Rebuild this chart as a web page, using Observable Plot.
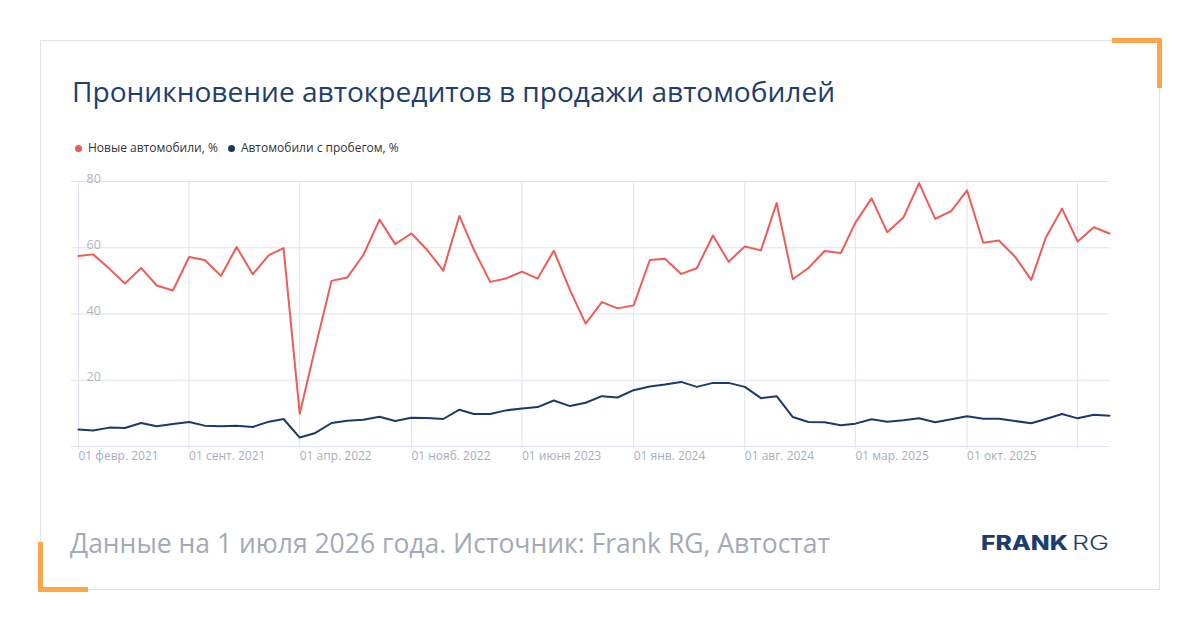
<!DOCTYPE html>
<html><head><meta charset="utf-8">
<script src="https://cdn.jsdelivr.net/npm/d3@7"></script>
<script src="https://cdn.jsdelivr.net/npm/@observablehq/plot@0.6"></script>
<style>
html,body{margin:0;padding:0;background:#fff;}
body{width:1200px;height:630px;position:relative;overflow:hidden;font-family:"Open Sans",sans-serif;}
.card{position:absolute;left:40px;top:40px;width:1120px;height:550px;border:1px solid #e3e3e3;box-sizing:border-box;}
.br-tr{position:absolute;left:1112px;top:38px;width:50px;height:50px;border-top:5px solid #ffa64d;border-right:5px solid #ffa64d;box-sizing:border-box;}
.br-bl{position:absolute;left:38px;top:542px;width:50px;height:50px;border-left:5px solid #ffa64d;border-bottom:5px solid #ffa64d;box-sizing:border-box;}
.title{position:absolute;left:72px;top:77px;font-size:28.1px;line-height:28px;color:#1e3e6f;white-space:nowrap;}
.legend{position:absolute;left:75px;top:142px;display:flex;font-size:12px;line-height:12px;color:#333;white-space:nowrap;}
.legend .item{display:flex;align-items:center;margin-right:10px;}
.legend .dot{width:7px;height:7px;border-radius:50%;margin-right:6px;}
.footer{position:absolute;left:70px;top:529.5px;font-size:26.5px;line-height:27px;color:#a4a9b8;white-space:nowrap;}
#chart{position:absolute;left:0;top:170px;}
#logo{position:absolute;left:975px;top:525px;}
</style></head>
<body>
<div class="card"></div>
<div class="br-tr"></div>
<div class="br-bl"></div>
<div class="title">Проникновение автокредитов в продажи автомобилей</div>
<div class="legend" id="legend"></div>
<div id="chart"></div>
<div class="footer">Данные на 1 июля 2026 года. Источник: Frank RG, Автостат</div>
<svg id="logo" width="150" height="35">
  <text x="6" y="25" font-family="Inter" font-weight="800" font-size="20" fill="#1d3c6e" textLength="87" lengthAdjust="spacingAndGlyphs">FRANK</text>
  <text x="97" y="25" font-family="Inter" font-weight="300" font-size="20" fill="#1d3c6e" textLength="37" lengthAdjust="spacingAndGlyphs">RG</text>
</svg>
<script>
const months = [
 "2021-02","2021-03","2021-04","2021-05","2021-06","2021-07","2021-08","2021-09","2021-10","2021-11","2021-12","2022-01",
 "2022-02","2022-03","2022-04","2022-05","2022-06","2022-07","2022-08","2022-09","2022-10","2022-11","2022-12","2023-01",
 "2023-02","2023-03","2023-04","2023-05","2023-06","2023-07","2023-08","2023-09","2023-10","2023-11","2023-12","2024-01",
 "2024-02","2024-03","2024-04","2024-05","2024-06","2024-07","2024-08","2024-09","2024-10","2024-11","2024-12","2025-01",
 "2025-02","2025-03","2025-04","2025-05","2025-06","2025-07","2025-08","2025-09","2025-10","2025-11","2025-12","2026-01",
 "2026-02","2026-03","2026-04","2026-05","2026-06","2026-07"
];
const newCars = [
 57.5,58.0,53.7,49.2,53.9,48.6,47.1,57.2,56.3,51.5,60.2,52.0,
 57.8,59.9,9.9,30.0,50.0,51.0,57.8,68.5,61.1,64.3,59.4,53.1,
 69.6,59.3,49.7,50.7,52.8,50.7,59.1,47.2,37.1,43.6,41.7,42.6,
 56.3,56.7,52.1,53.8,63.7,55.8,60.4,59.2,73.5,50.5,53.9,59.0,
 58.4,67.6,74.9,64.7,69.1,79.5,68.7,71.1,77.3,61.5,62.2,57.3,
 50.3,63.1,71.8,61.9,66.2,64.3
];
const usedCars = [
 5.1,4.8,5.7,5.6,7.1,6.1,6.8,7.4,6.3,6.1,6.3,5.9,
 7.5,8.3,2.7,4.1,7.1,7.8,8.1,9.0,7.7,8.7,8.6,8.3,
 11.1,9.8,9.8,10.9,11.5,11.9,13.9,12.2,13.2,15.2,14.8,17.0,
 18.1,18.7,19.5,18.0,19.2,19.2,18.0,14.6,15.2,8.9,7.4,7.3,
 6.4,6.9,8.2,7.5,7.9,8.5,7.3,8.2,9.1,8.4,8.4,7.7,
 7.0,8.3,9.8,8.5,9.6,9.3
];
const seriesNames = ["Новые автомобили, %", "Автомобили с пробегом, %"];
const seriesColors = ["#ef5b57", "#1b3a6b"];
const xTickMonths = ["2021-02","2021-09","2022-04","2022-11","2023-06","2024-01","2024-08","2025-03","2025-10","2026-05"];
const xTickLabels = ["01 февр. 2021","01 сент. 2021","01 апр. 2022","01 нояб. 2022","01 июня 2023","01 янв. 2024","01 авг. 2024","01 мар. 2025","01 окт. 2025",""];
const yGrid = [0,20,40,60,80];
const yTickLabels = [20,40,60,80];

const parse = d3.utcParse("%Y-%m");
const dates = months.map(parse);
const newData = dates.map((d,i)=>({date:d, value:newCars[i]}));
const usedData = dates.map((d,i)=>({date:d, value:usedCars[i]}));
const xTicks = xTickMonths.map((m,i)=>({date:parse(m), label:xTickLabels[i]}));

// legend
const lg = document.getElementById("legend");
seriesNames.forEach((n,i)=>{
  const it = document.createElement("div"); it.className="item";
  const dot = document.createElement("span"); dot.className="dot"; dot.style.background=seriesColors[i];
  const t = document.createElement("span"); t.textContent=n;
  it.appendChild(dot); it.appendChild(t); lg.appendChild(it);
});

const chart = Plot.plot({
  width: 1200, height: 300,
  marginLeft: 71, marginRight: 91, marginTop: 11, marginBottom: 24,
  style: {fontFamily: "Open Sans", background: "transparent", overflow: "visible"},
  x: {type: "utc", domain: [dates[0], dates[dates.length-1]], insetLeft: 7, axis: null},
  y: {domain: [0, 80], axis: null},
  marks: [
    Plot.ruleY(yGrid, {y: d=>d, stroke: "#dfe3f0", strokeWidth: 1}),
    Plot.ruleX(xTicks, {x: "date", stroke: "#dfe3f0", strokeWidth: 1, insetBottom: -3}),
    Plot.text(yTickLabels, {y: d=>d, text: d=>String(d), frameAnchor: "left", dx: 15, dy: 1, textAnchor: "start", lineAnchor: "bottom", fill: "#b0b4c2", fontSize: 12.5}),
    Plot.text(xTicks, {x: "date", text: "label", frameAnchor: "bottom", dy: 5, textAnchor: "start", lineAnchor: "top", fill: "#a9adbb", fontSize: 12}),
    Plot.line(newData, {x: "date", y: "value", stroke: seriesColors[0], strokeWidth: 2}),
    Plot.line(usedData, {x: "date", y: "value", stroke: seriesColors[1], strokeWidth: 2})
  ]
});
document.getElementById("chart").appendChild(chart);
</script>
</body></html>
